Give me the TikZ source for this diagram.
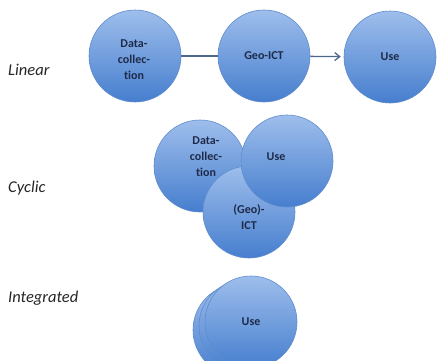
\documentclass[tikz,border=0pt]{standalone}
\usepackage{fontspec}
\setmainfont[Ligatures=NoCommon]{Carlito}
\usetikzlibrary{arrows.meta}
\definecolor{circtop}{RGB}{158,190,236}
\definecolor{circbot}{RGB}{70,126,206}
\definecolor{circline}{RGB}{95,140,205}
\definecolor{txt}{RGB}{30,42,72}
\definecolor{connc}{RGB}{78,104,140}
\tikzset{
  ball/.style={circle, minimum size=92pt, inner sep=0pt, draw=circline, line width=0.6pt,
    top color=circtop, bottom color=circbot, text=txt,
    font=\bfseries\fontsize{12}{16}\selectfont, align=center},
  balltext/.style={text=txt, font=\bfseries\fontsize{12}{16}\selectfont, align=center, inner sep=0pt},
  rowlabel/.style={font=\itshape\fontsize{16.5}{19}\selectfont, anchor=west, text=black!85, inner sep=0pt},
  connline/.style={draw=connc, line width=1.3pt}
}
\begin{document}
\begin{tikzpicture}[x=1pt,y=-1pt]
\useasboundingbox (0,0) rectangle (437,360);
\clip (0,0) rectangle (437,360);
\fill[white] (0,0) rectangle (437,360);
% labels
\node[rowlabel] (llin) at (8,70) {Linear};
\node[rowlabel] (lcyc) at (8,188) {Cyclic};
\node[rowlabel] (lint) at (8,298) {Integrated};
% linear
\node[ball] (dc) at (135,56) {};
\node[ball] (geo) at (264,56) {Geo-ICT};
\node[ball] (use) at (390,57) {Use};
\node[balltext] (dct) at (134,60) {Data-\\collec-\\tion};
\draw[connline] (dc) -- (geo);
\draw[connline, -{Straight Barb[length=5pt,width=8pt]}, shorten >=3pt] (geo) -- (use);
% cyclic
\node[ball] (cdc) at (200,166) {};
\node[ball] (cict) at (249,212) {};
\node[ball] (cuse) at (287,161) {};
\node[balltext] (cdct) at (206,157) {Data-\\collec-\\tion};
\node[balltext] (cictt) at (249,217) {(Geo)-\\ICT};
\node[balltext] (cuset) at (276,157) {Use};
% integrated
\node[ball] (iu3) at (239,330) {};
\node[ball] (iu2) at (245,326) {};
\node[ball] (iu1) at (251,322) {Use};
\end{tikzpicture}
\end{document}
